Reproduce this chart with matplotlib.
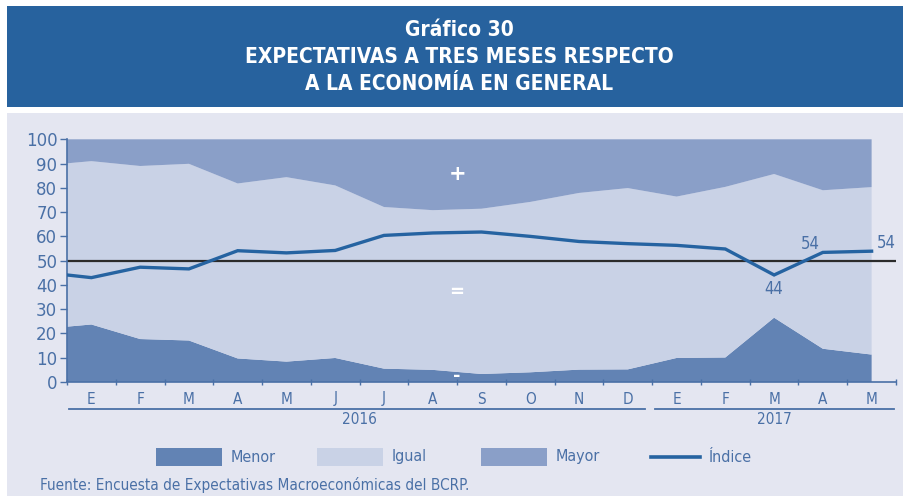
import matplotlib
matplotlib.use("Agg")
import matplotlib.pyplot as plt
from matplotlib.patches import Rectangle
from matplotlib.lines import Line2D
import numpy as np

# ---------------- data ----------------
months = ["E", "F", "M", "A", "M", "J", "J", "A", "S", "O", "N", "D", "E", "F", "M", "A", "M"]
years = ["2016", "2017"]
# first value is the start of the series at the left edge of the chart
menor = [22.8, 23.7, 17.7, 17.1, 9.7, 8.4, 9.9, 5.5, 5.0, 3.3, 4.0, 5.1, 5.2, 9.9, 10.1, 26.5, 13.7, 11.3]
igual = [67.3, 67.3, 71.3, 72.8, 72.1, 76.0, 71.1, 66.6, 65.8, 68.1, 70.2, 72.8, 74.7, 66.5, 70.3, 59.2, 65.3, 69.0]
mayor = [9.9, 9.0, 11.0, 10.1, 18.2, 15.6, 19.0, 27.9, 29.2, 28.6, 25.8, 22.1, 20.1, 23.6, 19.6, 14.3, 21.0, 19.7]
indice = [44.1, 43.0, 47.3, 46.6, 54.1, 53.2, 54.2, 60.4, 61.4, 61.8, 60.0, 57.9, 57.0, 56.3, 54.8, 44.1, 53.4, 53.9]
labels_idx = {15: "44", 16: "54", 17: "54"}

# ---------------- style ----------------
W, H = 904, 496
HEADER = "#27629E"
PANEL = "#E4E6F1"
C_MENOR = "#6283B4"
C_IGUAL = "#C9D2E6"
C_MAYOR = "#8A9FC8"
C_LINE = "#2563A1"
C_TEXT = "#4A70A6"
FONT = ["DejaVu Sans"]
ST = "condensed"

fig = plt.figure(figsize=(W / 100, H / 100), dpi=100)
fig.patch.set_facecolor("white")

def fx(px):
    return px / W

def fy(py):
    return 1 - py / H

# header band & panel
fig.add_artist(Rectangle((fx(7), fy(107)), fx(904) - fx(7), fy(6) - fy(107),
                         transform=fig.transFigure, facecolor=HEADER, edgecolor="none", zorder=0))
fig.add_artist(Rectangle((fx(7), 0), fx(904) - fx(7), fy(113),
                         transform=fig.transFigure, facecolor=PANEL, edgecolor="none", zorder=0))

title_lines = ["Gráfico 30", "EXPECTATIVAS A TRES MESES RESPECTO", "A LA ECONOMÍA EN GENERAL"]
for i, t in enumerate(title_lines):
    fig.text(fx(459), fy(30 + 27 * i), t, color="white", fontsize=15, fontweight="bold",
             ha="center", va="center", family=FONT, fontstretch=ST)

# axes
x0, x1, ytop, ybot = 67, 896, 139.3, 382
ax = fig.add_axes([fx(x0), fy(ybot), fx(x1) - fx(x0), fy(ytop) - fy(ybot)])
ax.set_facecolor(PANEL)

n = len(months)
xs = np.concatenate([[0.0], np.arange(n) + 0.5])
ax.stackplot(xs, menor, igual, mayor, colors=[C_MENOR, C_IGUAL, C_MAYOR], linewidth=0, zorder=1)
ax.axhline(50, color="#2b2b2b", lw=1.6, zorder=2)
ax.plot(xs, indice, color=C_LINE, lw=2.4, zorder=3, solid_joinstyle="miter")

ax.set_xlim(0, n)
ax.set_ylim(0, 100)
ax.set_yticks(np.arange(0, 101, 10))
ax.set_xticks(np.arange(0, n + 1))
ax.set_xticklabels([])
ax.tick_params(axis="y", direction="out", length=5, width=1, color=C_TEXT, labelcolor=C_TEXT,
               labelsize=12, pad=2)
ax.tick_params(axis="x", direction="inout", length=5, width=1, color=C_TEXT)
for lab in ax.get_yticklabels():
    lab.set_family(FONT)
for s in ["top", "right"]:
    ax.spines[s].set_visible(False)
for s in ["left", "bottom"]:
    ax.spines[s].set_color(C_TEXT)
    ax.spines[s].set_linewidth(1.2)

# + = - signs
for ch, yv in [("+", 85.5), ("=", 37), ("-", 2.5)]:
    ax.text(8.0, yv, ch, color="white", fontsize=15 if ch == "+" else 13, fontweight="bold",
            ha="center", va="center", zorder=4)

# index labels
for i, t in labels_idx.items():
    xv, yv = xs[i], indice[i]
    if i == 15:
        ax.text(xv, yv - 5.9, t, color=C_TEXT, fontsize=12, ha="center", va="center",
                family=FONT, fontstretch=ST)
    elif i == 16:
        ax.text(xv - 0.26, yv + 3.6, t, color=C_TEXT, fontsize=12, ha="center", va="center",
                family=FONT, fontstretch=ST)
    else:
        ax.text(xv + 0.11, yv + 3.2, t, color=C_TEXT, fontsize=12, ha="left", va="center",
                family=FONT, fontstretch=ST)

# month labels & year groups
tr = ax.get_xaxis_transform()
axh = ybot - ytop
def ay(py):
    return (ybot - py) / axh

for i, m in enumerate(months):
    ax.text(i + 0.5, ay(399), m, transform=tr, ha="center", va="center", color=C_TEXT,
            fontsize=11, family=FONT, fontstretch=ST, clip_on=False)
for (a, b), yr in zip([(0.04, 11.85), (12.06, 16.95)], years):
    ax.add_line(Line2D([a, b], [ay(408.7), ay(408.7)], transform=tr, color=C_TEXT, lw=1.3, clip_on=False))
    ax.text((round(a) + round(b)) / 2, ay(419.5), yr, transform=tr, ha="center", va="center",
            color=C_TEXT, fontsize=11, family=FONT, fontstretch=ST, clip_on=False)

# legend (manual)
leg_y = 457
for px, c, name in [(156, C_MENOR, "Menor"), (317, C_IGUAL, "Igual"), (481, C_MAYOR, "Mayor")]:
    fig.add_artist(Rectangle((fx(px), fy(466)), fx(66), fy(448) - fy(466), transform=fig.transFigure,
                             facecolor=c, edgecolor="none"))
    fig.text(fx(px + 75), fy(leg_y), name, color=C_TEXT, fontsize=11.5, ha="left", va="center",
             family=FONT, fontstretch=ST)
fig.add_artist(Line2D([fx(651), fx(700)], [fy(leg_y), fy(leg_y)], transform=fig.transFigure,
                      color=C_LINE, lw=2.6))
fig.text(fx(709), fy(leg_y), "Índice", color=C_TEXT, fontsize=11.5, ha="left", va="center",
         family=FONT, fontstretch=ST)

fig.text(fx(40), fy(485), "Fuente: Encuesta de Expectativas Macroeconómicas del BCRP.", color=C_TEXT,
         fontsize=11, ha="left", va="center", family=FONT, fontstretch=ST)

fig.savefig("out.png", dpi=100, facecolor="white")
